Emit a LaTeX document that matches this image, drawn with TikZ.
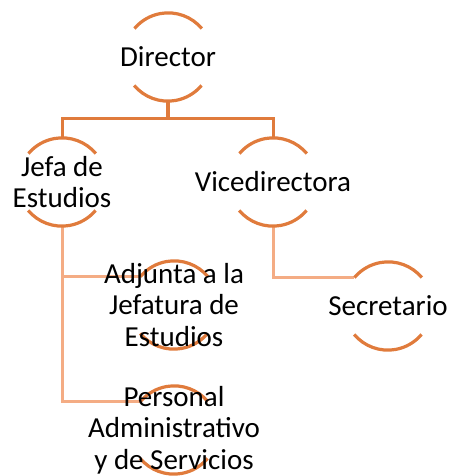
\documentclass[tikz,border=0pt]{standalone}
\usepackage{fontspec}
\setmainfont{Carlito}
\definecolor{arcor}{HTML}{E07B3C}
\definecolor{subor}{HTML}{F4AC84}
\begin{document}
\begin{tikzpicture}[x=1pt,y=-1pt,
  ring/.style={circle,minimum size=88pt,inner sep=0pt,draw=none},
  lbl/.style={align=center,inner sep=0pt,font=\fontsize{29pt}{31.5pt}\selectfont,text=black},
  arcline/.style={draw=arcor,line width=3.2pt},
  bus/.style={draw=arcor,line width=3pt},
  stem/.style={draw=arcor,line width=4.5pt},
  sub/.style={draw=subor,line width=3pt}]
\useasboundingbox (0,0) rectangle (451,476);
\node[ring] (dir) at (168,57) {};
\node[ring] (jefa) at (62,182) {};
\node[ring] (vice) at (273,182) {};
\node[ring] (adj) at (174,305) {};
\node[ring] (pers) at (174,430) {};
\node[ring] (sec) at (388,306) {};
\coordinate (bus) at (168,119);
% connectors
\draw[stem] (dir.south) -- (bus);
\draw[bus] (jefa.north) |- (bus) -| (vice.north);
\draw[sub] (jefa.south) |- (pers.140);
\draw[sub] (jefa.south |- adj.140) -- (adj.140);
\draw[sub] (vice.south) |- (sec.140);
% arcs
\foreach \n in {dir,jefa,vice,adj,pers,sec}{
  \draw[arcline] (\n.40) arc[start angle=40,end angle=140,radius=44pt];
  \draw[arcline] (\n.220) arc[start angle=220,end angle=320,radius=44pt];
}
% texts
\node[lbl] (dir-t) at (dir) {Director};
\node[lbl] (jefa-t) at (jefa) {Jefa de\\Estudios};
\node[lbl] (vice-t) at (vice) {Vicedirectora};
\node[lbl] (adj-t) at (adj) {Adjunta a la\\Jefatura de\\Estudios};
\node[lbl] (pers-t) at (pers) {Personal\\Administrativo\\y de Servicios};
\node[lbl] (sec-t) at (sec) {Secretario};
\end{tikzpicture}
\end{document}
